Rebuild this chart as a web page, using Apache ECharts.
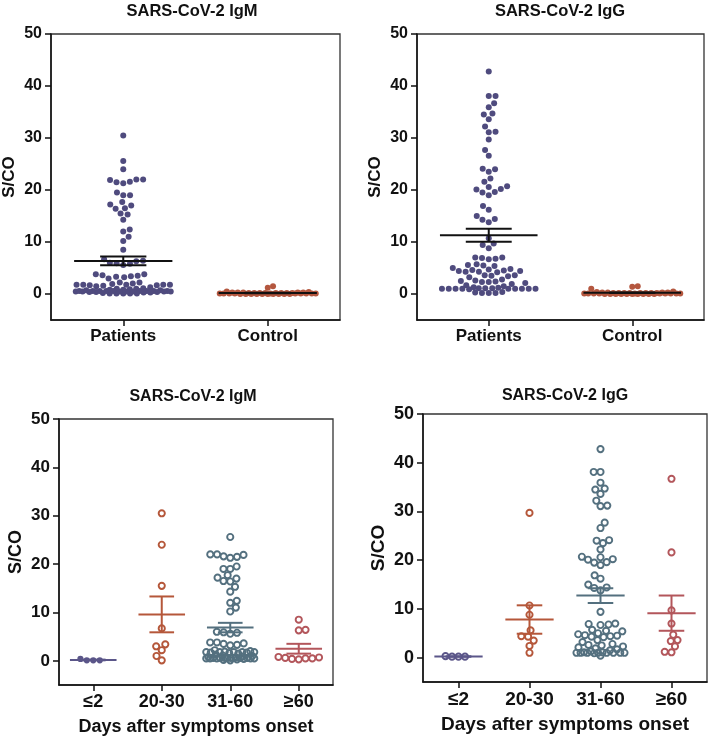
<!DOCTYPE html>
<html><head><meta charset="utf-8">
<script src="https://cdn.jsdelivr.net/npm/echarts@6/dist/echarts.min.js"></script>
<style>html,body{margin:0;padding:0;background:#fff}#c{width:709px;height:740px}</style>
</head><body><div id="c"></div>
<script>
// ---------- data ----------
const topCategories = ['Patients', 'Control'];
const dayCategories = ['≤2', '20-30', '31-60', '≥60'];
const yTicks = [0, 10, 20, 30, 40, 50];
const titles = ['SARS-CoV-2 IgM', 'SARS-CoV-2 IgG', 'SARS-CoV-2 IgM', 'SARS-CoV-2 IgG'];
const xAxisName = 'Days after symptoms onset';
const yAxisName = 'S/CO';

// IgM S/CO by days after symptoms onset
const igmDaysLe2 = [0.1, 0.1, 0.1, 0.4];
const igmDays20to30 = [30.5, 24.0, 15.5, 6.7, 3.4, 3.0, 2.2, 1.0, 0.1];
const igmDays31to60 = [25.6, 22.0, 21.6, 21.3, 21.5, 21.9, 22.0, 19.5, 19.0, 19.0,
  17.2, 17.0, 16.5, 16.4, 17.7, 15.3, 14.3, 12.4, 12.0, 11.0, 10.2,
  6.0, 5.8, 5.6, 5.9, 3.8, 3.5, 3.3, 3.8, 3.6, 3.2,
  2.2, 2.0, 1.9, 1.8, 1.8, 1.8, 1.8, 1.8, 1.7, 1.7, 1.6, 1.5, 1.3, 1.1, 1.0,
  0.9, 0.8, 0.7, 0.6, 0.6, 0.6, 0.6, 0.6, 0.6, 0.6, 0.6, 0.5, 0.5, 0.5, 0.5, 0.5,
  0.4, 0.3, 0.2, 0.1];
const igmDaysGe60 = [8.5, 6.4, 6.3, 0.8, 0.7, 0.6, 0.5, 0.5, 0.4, 0.3];
const igmControl = [1.5, 1.2, 0.5, 0.4, 0.3, 0.3, 0.3, 0.3, 0.3, 0.2, 0.2, 0.2, 0.2,
  0.2, 0.2, 0.2, 0.2, 0.1, 0.1, 0.1, 0.1, 0.1, 0.1, 0.1, 0.1, 0.1, 0.1,
  0.0, 0.0, 0.0, 0.0, 0.0, 0.0, 0.0, 0.0, 0.0, 0.0];

// IgG S/CO by days after symptoms onset
const iggDaysLe2 = [0.2, 0.2, 0.2, 0.3];
const iggDays20to30 = [29.7, 10.7, 8.8, 5.6, 4.4, 4.3, 3.5, 2.4, 1.0];
const iggDays31to60 = [42.8, 38.1, 38.1, 35.9, 34.7, 34.5, 33.6, 32.2, 31.2, 31.1,
  27.7, 26.6, 24.1, 24.0, 23.5, 22.2, 20.7, 20.6, 20.2, 20.1, 19.6, 19.5, 19.0,
  16.9, 16.2, 15.0, 14.4, 14.3, 13.8, 9.4,
  7.0, 6.9, 6.8, 6.7, 5.7, 5.5, 5.4, 5.0, 4.8, 4.6, 4.5, 4.4, 4.3, 4.2,
  3.6, 3.2, 2.8, 2.6, 2.5, 2.3, 2.1,
  1.9, 1.7, 1.5, 1.3, 1.1, 1.1, 1.0, 1.0, 1.0, 1.0, 1.0, 1.0, 1.0, 1.0, 0.9, 0.4];
const iggDaysGe60 = [36.7, 21.6, 9.7, 7.0, 4.7, 3.6, 3.4, 2.3, 1.2, 1.1];
const iggControl = [1.5, 1.4, 1.0, 0.5, 0.4, 0.3, 0.3, 0.3, 0.3, 0.2, 0.2, 0.2, 0.2,
  0.2, 0.2, 0.2, 0.2, 0.1, 0.1, 0.1, 0.1, 0.1, 0.1, 0.1, 0.1, 0.1, 0.1,
  0.0, 0.0, 0.0, 0.0, 0.0, 0.0, 0.0, 0.0, 0.0, 0.0];

// patients = all day groups combined
const igmPatients = [].concat(igmDaysLe2, igmDays20to30, igmDays31to60, igmDaysGe60);
const iggPatients = [].concat(iggDaysLe2, iggDays20to30, iggDays31to60, iggDaysGe60);

// ---------- styles ----------
const FONT = '"Liberation Sans", Arial, sans-serif';
const patientColor = '#4f4b7e';
const controlColor = '#b4573f';
const dayColors = ['#5b5689', '#b5573a', '#54707f', '#b3565b'];

const panels = [
  {grid: {left: 50, top: 34, width: 290, height: 286}, cats: topCategories,
   groups: [{v: igmPatients, c: patientColor, filled: true, D: 6.8, W: 48}, {v: igmControl, c: controlColor, filled: true, D: 5.5, W: 48}],
   errColor: '#111', tick: 16, lab: 17, name: 17, nameGap: 33, title: [192, 11], tsize: 16.5, xname: false},
  {grid: {left: 417, top: 34, width: 287, height: 286}, cats: topCategories,
   groups: [{v: iggPatients, c: patientColor, filled: true, D: 6.8, W: 48}, {v: iggControl, c: controlColor, filled: true, D: 5.5, W: 48}],
   errColor: '#111', tick: 16, lab: 17, name: 17, nameGap: 33, title: [560, 11], tsize: 16.5, xname: false},
  {grid: {left: 59, top: 419, width: 274, height: 266}, cats: dayCategories,
   groups: [{v: igmDaysLe2, c: dayColors[0], filled: true, D: 6.5, W: 24}, {v: igmDays20to30, c: dayColors[1], D: 6.8, W: 24},
            {v: igmDays31to60, c: dayColors[2], D: 6.8, W: 24}, {v: igmDaysGe60, c: dayColors[3], D: 6.8, W: 24}],
   errColor: null, tick: 17, lab: 18, name: 18, nameGap: 34, title: [193, 397], tsize: 16, xname: true},
  {grid: {left: 423, top: 414, width: 284, height: 268}, cats: dayCategories,
   groups: [{v: iggDaysLe2, c: dayColors[0], D: 6.5, W: 24}, {v: iggDays20to30, c: dayColors[1], D: 6.8, W: 24},
            {v: iggDays31to60, c: dayColors[2], D: 6.8, W: 24}, {v: iggDaysGe60, c: dayColors[3], D: 6.8, W: 24}],
   errColor: null, tick: 18, lab: 19, name: 19, nameGap: 35, title: [565, 396], tsize: 16, xname: true}
];

function meanSem(a) {
  const n = a.length, m = a.reduce((s, x) => s + x, 0) / n;
  const v = a.reduce((s, x) => s + (x - m) * (x - m), 0) / (n - 1);
  return [m, Math.sqrt(v / n)];
}

const chart = echarts.init(document.getElementById('c'), null, {renderer: 'canvas'});
const axisLineStyle = {color: '#111', width: 1.5};

const base = {
  animation: false,
  backgroundColor: '#fff',
  grid: panels.map(p => Object.assign({show: true, borderColor: '#333', borderWidth: 1.3, backgroundColor: 'transparent'}, p.grid)),
  xAxis: panels.map((p, i) => {
    const vals = p.cats.map((_, k) => k + 1);
    return {
      type: 'value', gridIndex: i, min: 0.5, max: p.cats.length + 0.5,
      axisLine: {show: true, onZero: false, lineStyle: axisLineStyle},
      axisTick: {show: true, length: 6, customValues: vals, lineStyle: axisLineStyle},
      axisLabel: {customValues: vals, formatter: v => p.cats[Math.round(v) - 1] || '', margin: 8,
        fontSize: p.lab, fontWeight: 'bold', color: '#111', fontFamily: FONT},
      splitLine: {show: false},
      name: p.xname ? xAxisName : '', nameLocation: 'middle', nameGap: 33,
      nameTextStyle: {fontSize: p.name, fontWeight: 'bold', color: '#111', fontFamily: FONT}
    };
  }),
  yAxis: panels.map((p, i) => ({
    type: 'value', gridIndex: i, min: -5, max: 50,
    axisLine: {show: true, onZero: false, lineStyle: axisLineStyle},
    axisTick: {show: true, length: 6, customValues: yTicks, lineStyle: axisLineStyle},
    axisLabel: {customValues: yTicks, margin: 9, fontSize: p.tick, fontWeight: 'bold', color: '#111', fontFamily: FONT},
    splitLine: {show: false},
    name: yAxisName, nameLocation: 'middle', nameGap: p.nameGap,
    nameTextStyle: {fontSize: p.name, fontWeight: 'bold', color: '#111', fontFamily: FONT}
  })),
  graphic: panels.map((p, i) => ({
    type: 'text', x: p.title[0], y: p.title[1],
    style: {text: titles[i], fontSize: p.tsize, fontWeight: 'bold', fill: '#111', fontFamily: FONT,
      textAlign: 'center', textVerticalAlign: 'middle'}
  })),
  series: []
};
chart.setOption(base);

// deterministic beeswarm layout in pixel space, limited half-width (points overlap when crowded)
function swarm(pys, D, maxW) {
  const idx = pys.map((_, i) => i).sort((a, b) => pys[b] - pys[a] || a - b);
  const placed = [], off = new Array(pys.length);
  idx.forEach((i, k) => {
    const y = pys[i], iv = [];
    placed.forEach(p => {
      const dy = Math.abs(p.y - y);
      if (dy < D) { const w = Math.sqrt(D * D - dy * dy); iv.push([p.x - w, p.x + w]); }
    });
    const cands = [0];
    iv.forEach(r => cands.push(r[0], r[1]));
    const side = k % 2 ? 1 : -1;
    cands.sort((a, b) => (Math.abs(a) - Math.abs(b)) || (side * (a - b)));
    let best = null;
    for (const c of cands) {
      if (Math.abs(c) > maxW + 1e-6) break;
      if (iv.every(r => c <= r[0] + 1e-6 || c >= r[1] - 1e-6)) { best = c; break; }
    }
    if (best === null) {
      let score = -1;
      for (let c = 0; c <= maxW + 1e-6; c += 0.5) {
        for (const s of [side * c, -side * c]) {
          let md = Infinity;
          placed.forEach(p => { const d = Math.hypot(p.x - s, p.y - y); if (d < md) md = d; });
          if (md > score + 1e-9) { score = md; best = s; }
        }
      }
    }
    off[i] = best; placed.push({x: best, y});
  });
  return off;
}

function errRender(color, hw, sw) {
  return function (params, api) {
    const x = api.value(0), m = api.value(1), s = api.value(2);
    const st = {stroke: color, lineWidth: 2, fill: null};
    const L = (a, b, c, d) => {
      const p1 = api.coord([a, b]), p2 = api.coord([c, d]);
      return {type: 'line', shape: {x1: p1[0], y1: p1[1], x2: p2[0], y2: p2[1]}, style: st};
    };
    return {type: 'group', children: [
      L(x - hw, m, x + hw, m), L(x - sw, m + s, x + sw, m + s), L(x - sw, m - s, x + sw, m - s), L(x, m - s, x, m + s)
    ]};
  };
}

const series = [];
panels.forEach((p, gi) => {
  const f = {xAxisIndex: gi, yAxisIndex: gi};
  const pxPerX = chart.convertToPixel(f, [1, 0])[0] - chart.convertToPixel(f, [0, 0])[0];
  const top = gi < 2;
  p.groups.forEach((g, k) => {
    const cat = k + 1;
    const pys = g.v.map(v => chart.convertToPixel(f, [cat, v])[1]);
    const off = swarm(pys, g.D, g.W);
    const data = g.v.map((v, i) => [cat + off[i] / pxPerX, v]);
    series.push({
      type: 'scatter', xAxisIndex: gi, yAxisIndex: gi, data, z: 2,
      symbol: 'circle', symbolSize: top ? 6 : 6.2,
      itemStyle: g.filled
        ? {color: g.c, opacity: 1}
        : {color: 'rgba(255,255,255,0)', borderColor: g.c, borderWidth: 1.9, opacity: 1},
      silent: true
    });
    const ms = meanSem(g.v);
    const col = p.errColor || g.c;
    series.push({
      type: 'custom', xAxisIndex: gi, yAxisIndex: gi, z: 5, silent: true,
      data: [[cat, ms[0], ms[1]]],
      renderItem: errRender(col, 0.34, top ? 0.16 : 0.18)
    });
  });
});
chart.setOption({series});
</script>
</body></html>
